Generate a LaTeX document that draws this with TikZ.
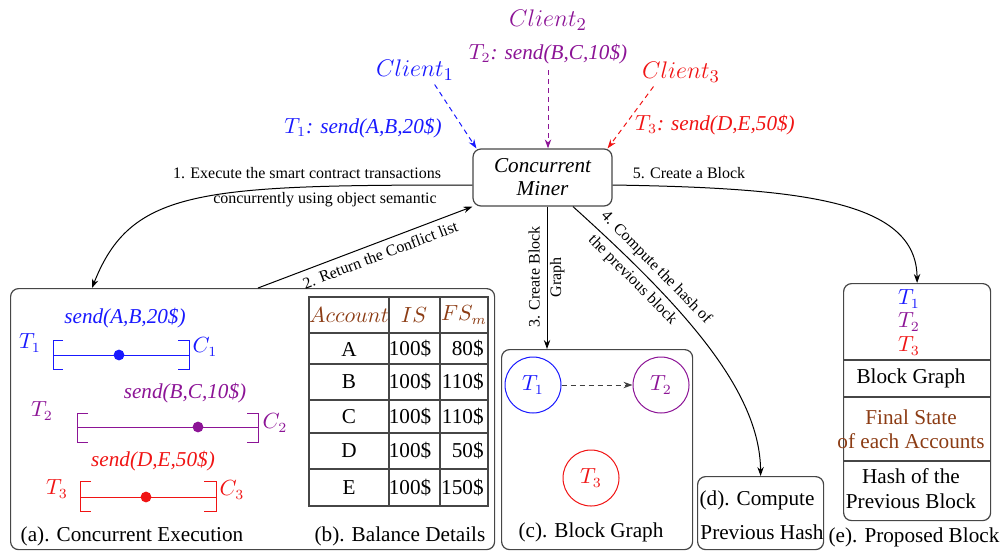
\documentclass[tikz,border=0pt]{standalone}
\usepackage{fontspec}
\setmainfont{Liberation Serif}
\usetikzlibrary{arrows.meta,calc}
\definecolor{cblue}{RGB}{25,25,255}
\definecolor{cpurp}{RGB}{140,20,150}
\definecolor{cred}{RGB}{240,20,20}
\definecolor{cbrown}{RGB}{140,60,20}
\definecolor{bline}{RGB}{70,70,70}
\begin{document}
\begin{tikzpicture}[x=0.5pt,y=-0.5pt,
  box/.style={draw=bline, line width=0.6pt, rounded corners=4pt, inner sep=0pt},
  arr/.style={-{Stealth[length=4.5pt,width=3.2pt]}, line width=0.5pt},
  darr/.style={-{Stealth[length=4.5pt,width=3.2pt]}, line width=0.5pt, dash pattern=on 2.5pt off 2pt},
  lab/.style={font=\fontsize{8}{9.5}\selectfont, inner sep=0pt},
  txt/.style={font=\fontsize{10.6}{12.7}\selectfont, inner sep=0pt},
  cli/.style={font=\fontsize{13}{15}\selectfont, inner sep=0pt},
  snd/.style={font=\fontsize{10.6}{12.7}\selectfont\itshape, inner sep=0pt},
  tcirc/.style={circle, draw, line width=0.5pt, minimum size=28pt, inner sep=0pt, font=\fontsize{10.6}{12.7}\selectfont},
  intv/.style={line width=0.5pt},
  grid/.style={draw=bline, line width=0.6pt}
]
\useasboundingbox (0,0) rectangle (1004,552);

% ---- miner
\node[box, minimum width=69.5pt, minimum height=28.5pt, align=center,
      font=\fontsize{10.6}{11.5}\selectfont\itshape] (miner) at (542.5,177.5) {Concurrent\\Miner};

% ---- clients
\node[cli, text=cblue] (c1) at (415,70) {$Client_1$};
\node[cli, text=cpurp] (c2) at (548,20) {$Client_2$};
\node[cli, text=cred] (c3) at (681,72) {$Client_3$};
\node[snd, text=cblue] (t1lab) at (363,128) {$T_1$: send(A,B,20\$)};
\node[snd, text=cpurp] (t2lab) at (548,54) {$T_2$: send(B,C,10\$)};
\node[snd, text=cred] (t3lab) at (715,125) {$T_3$: send(D,E,50\$)};

\draw[darr, cblue] ($(c1.south)!0.5!(c1.south east)+(0,4)$) -- ($(miner.north west)+(4,0)$);
\draw[darr, cpurp] ($(t2lab.south)+(0,6)$) -- (t2lab.south |- miner.north);
\draw[darr, cred] ($(c3.south west)!0.15!(c3.south east)+(0,4)$) -- ($(miner.north east)+(-5,0)$);

% ---- boxes
\node[box, anchor=north west, minimum width=242pt, minimum height=130.5pt] (abox) at (10,288) {};
\node[box, anchor=north west, minimum width=95.5pt, minimum height=100pt] (cbox) at (501,349) {};
\node[box, anchor=north west, minimum width=63pt, minimum height=36.5pt] (dbox) at (697,476) {};
\node[box, anchor=north west, minimum width=73.5pt, minimum height=118.5pt] (ebox) at (843,283) {};

% ---- edges
\draw[arr] ($(miner.west)+(0,7.5)$) .. controls (200,185) and (131,189) .. ($(abox.north west)+(82,0)$);
\node[lab] (l1a) at (307,173) {1. Execute the smart contract transactions};
\node[lab] (l1b) at (325,200) {concurrently using object semantic};

\draw[arr] ($(abox.north west)+(248,0)$) -- node[lab, sloped, below=3pt, pos=0.55] (l2) {2. Return the Conflict list} (miner.south west);

\draw[arr] ($(miner.south)+(4.5,0)$) -- ($(miner.south |- cbox.north)+(4.5,0)$);
\node[lab, rotate=90, align=center] (l3) at (546.5,277) {3. Create Block\\[1.2pt]Graph};

\draw[arr] ($(miner.south)+(30.5,0)$) .. controls (682,305) and (760,390) .. (dbox.north)
  node[lab, sloped, above=2.5pt, pos=0.245] (l4a) {4. Compute the hash of}
  node[lab, sloped, below=2.5pt, pos=0.225] (l4b) {the previous block};

\draw[arr] ($(miner.east)+(0,7.5)$) .. controls (800,188) and (916.5,200) .. (ebox.north);
\node[lab] (l5) at (689,173) {5. Create a Block};

% ---- (a) concurrent execution
\node[txt, text=cblue] (tt1) at (30,343) {$T_1$};
\node[txt, text=cblue] (cc1) at (205,347) {$C_1$};
\node[snd, text=cblue] (s1) at (125,318) {send(A,B,20\$)};
\draw[intv, cblue] (63,340) -- (53,340) -- (53,369) -- (63,369);
\draw[intv, cblue] (178,340) -- (189,340) -- (189,369) -- (178,369);
\draw[intv, cblue] (53,355) -- (189,355);
\fill[cblue] (119,355) circle (2.7pt);

\node[txt, text=cpurp] (tt2) at (42,411) {$T_2$};
\node[txt, text=cpurp] (cc2) at (275,423) {$C_2$};
\node[snd, text=cpurp] (s2) at (185,393) {send(B,C,10\$)};
\draw[intv, cpurp] (88,413) -- (77,413) -- (77,442) -- (88,442);
\draw[intv, cpurp] (247,413) -- (258,413) -- (258,442) -- (247,442);
\draw[intv, cpurp] (77,427) -- (258,427);
\fill[cpurp] (198,427) circle (2.7pt);

\node[txt, text=cred] (tt3) at (57,489) {$T_3$};
\node[txt, text=cred] (cc3) at (232,490) {$C_3$};
\node[snd, text=cred] (s3) at (153,461) {send(D,E,50\$)};
\draw[intv, cred] (91,481) -- (80,481) -- (80,511) -- (91,511);
\draw[intv, cred] (204,481) -- (216,481) -- (216,511) -- (204,511);
\draw[intv, cred] (80,497) -- (216,497);
\fill[cred] (146,497) circle (2.7pt);

\node[txt] (alab) at (132,536) {(a). Concurrent Execution};

% ---- (b) table
\draw[grid] (309,297) rectangle (488,506);
\foreach \yy in {333,364,400,433,469} \draw[grid] (309,\yy) -- (488,\yy);
\foreach \xx in {389,440} \draw[grid] (\xx,297) -- (\xx,506);
\node[txt, text=cbrown] (h1) at (349,315) {$Account$};
\node[txt, text=cbrown] (h2) at (414,315) {$IS$};
\node[txt, text=cbrown] (h3) at (464,315) {$FS_m$};
\foreach \acc/\fs/\yy in {A/80/349,B/110/382,C/110/417,D/50/451,E/150/488}{
  \node[txt] at (349,\yy) {\acc};
  \node[txt] at (410,\yy) {100\$};
  \node[txt, anchor=east] at (484,\yy) {\fs\$};
}
\node[txt] (blab) at (400,536) {(b). Balance Details};

% ---- (c) block graph
\node[tcirc, draw=cblue, text=cblue] (g1) at (533,385) {$T_1$};
\node[tcirc, draw=cpurp, text=cpurp] (g2) at (661,385) {$T_2$};
\node[tcirc, draw=cred, text=cred] (g3) at (591,478) {$T_3$};
\draw[darr, black!75] (g1) -- (g2);
\node[txt] (clab) at (591,532) {(c). Block Graph};

% ---- (d)
\node[txt] (dl1) at (757,500) {(d). Compute};
\node[txt] (dl2) at (762,532) {Previous Hash};

% ---- (e) proposed block
\node[txt, text=cblue] (e1) at (909,299) {$T_1$};
\node[txt, text=cpurp] (e2) at (909,322) {$T_2$};
\node[txt, text=cred] (e3) at (909,346) {$T_3$};
\draw[grid] (ebox.west |- 0,360) -- (ebox.east |- 0,360);
\draw[grid, line width=0.9pt] (ebox.west |- 0,397) -- (ebox.east |- 0,397);
\draw[grid] (ebox.west |- 0,461) -- (ebox.east |- 0,461);
\node[txt] (eg) at (911,378) {Block Graph};
\node[txt, text=cbrown] (ef1) at (911,417) {Final State};
\node[txt, text=cbrown] (ef2) at (911,441) {of each Accounts};
\node[txt] (eh1) at (911,476) {Hash of the};
\node[txt] (eh2) at (911,501) {Previous Block};
\node[txt] (elab) at (914,537) {(e). Proposed Block};
\end{tikzpicture}
\end{document}
